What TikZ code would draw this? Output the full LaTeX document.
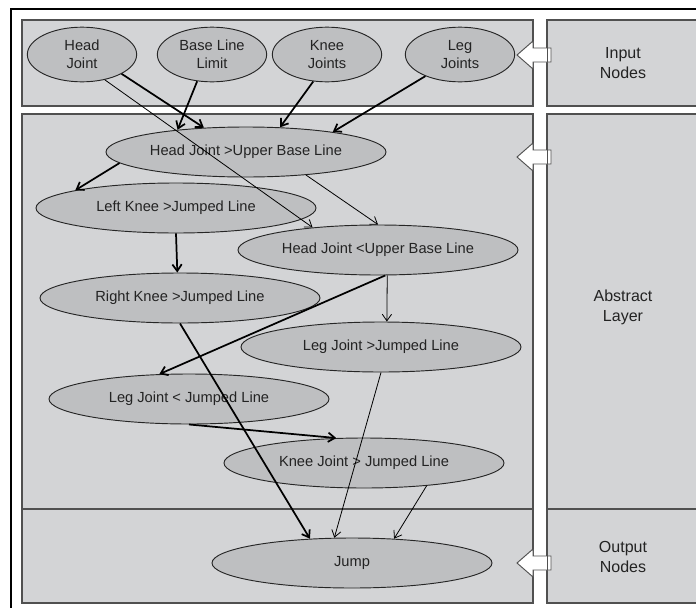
\documentclass[tikz,border=0pt]{standalone}
\usepackage{fontspec}
\setmainfont{Liberation Sans}
\usetikzlibrary{arrows.meta}
\usetikzlibrary{shapes.geometric}
\definecolor{panelgray}{RGB}{211,212,214}
\definecolor{nodegray}{RGB}{190,191,193}
\definecolor{panelline}{RGB}{80,80,80}
\definecolor{textgray}{RGB}{35,35,35}
\tikzset{
    layerpanel/.style={fill=panelgray, draw=panelline, line width=1.1pt},
    inputnode/.style={ellipse, draw=black!85, fill=nodegray, line width=0.7pt,
        minimum width=82pt, minimum height=41pt, inner sep=0pt, align=center,
        text=textgray, font=\fontsize{11}{13.5}\selectfont},
    rulenode/.style={inputnode, minimum width=210pt, minimum height=37.5pt},
    thickedge/.style={-{Straight Barb[length=5pt,width=7pt]}, line width=1.3pt},
    thinedge/.style={-{Straight Barb[length=5pt,width=7pt]}, line width=0.6pt},
    sidelabel/.style={align=center, text=textgray, font=\fontsize{12}{15}\selectfont},
    blockarrow/.style={fill=white, draw=panelline, line width=0.7pt}
}

\begin{document}
\begin{tikzpicture}[x=0.75pt, y=-0.75pt]
        \clip (0,0) rectangle (696,607);
        % frame
        \draw[black, line width=0.8pt] (11,610) -- (11,9) -- (700,9);
        % panels
        \foreach \top/\bottom in {20/106, 114/509, 509/603}
        {
            \draw[layerpanel] (22,\top) rectangle (533,\bottom);
            \draw[layerpanel] (547,\top) rectangle (700,\bottom);
        }
        % block arrows
        \foreach \y in {55,157,563}
        {
            \draw[blockarrow] (517,\y) -- (533,\y-14) -- (533,\y-7) -- (551,\y-7)
                -- (551,\y+7) -- (533,\y+7) -- (533,\y+14) -- cycle;
            \draw[panelline, line width=0.7pt] (547,\y-7) -- (547,\y+7);
        }
        % input nodes
        \node[inputnode] (headjoint) at (82,54.5) {Head\\Joint};
        \node[inputnode] (baseline) at (212,54.5) {Base Line\\Limit};
        \node[inputnode] (kneejoints) at (327,54.5) {Knee\\Joints};
        \node[inputnode] (legjoints) at (460,54.5) {Leg\\Joints};
        % abstract layer
        \node[rulenode] (headabove) at (246,152) {Head Joint >Upper Base Line};
        \node[rulenode] (leftknee) at (176,208) {Left Knee >Jumped Line};
        \node[rulenode] (headbelow) at (378,250) {Head Joint <Upper Base Line};
        \node[rulenode] (rightknee) at (180,298) {Right Knee >Jumped Line};
        \node[rulenode] (legabove) at (381,347) {Leg Joint >Jumped Line};
        \node[rulenode] (legbelow) at (189,399) {Leg Joint < Jumped Line};
        \node[rulenode] (kneeabove) at (364,463) {Knee Joint > Jumped Line};
        % output node
        \node[rulenode] (jump) at (352,563) {Jump};
        % side labels
        \node[sidelabel] (inputlabel) at (623,63) {Input\\Nodes};
        \node[sidelabel] (abstractlabel) at (623,307) {Abstract\\Layer};
        \node[sidelabel] (outputlabel) at (623,557) {Output\\Nodes};
        % edges
        \draw[thickedge] (headjoint.-26) -- (headabove.150);
        \draw[thinedge] (headjoint.-48) -- (headbelow.161);
        \draw[thickedge] (baseline.-119) -- (headabove.162);
        \draw[thickedge] (kneejoints.-117) -- (headabove.36);
        \draw[thickedge] (legjoints.-148) -- (headabove.13);
        \draw[thickedge] (headabove.-175) -- (leftknee.170);
        \draw[thinedge] (headabove.-21) -- (headbelow.north);
        \draw[thickedge] (leftknee.south) -- (rightknee.96);
        \draw[thickedge] (headbelow.-74) -- (legbelow.140);
        \draw[thinedge] (headbelow.-70) -- (legabove.77);
        \draw[thickedge] (rightknee.south) -- (jump.150);
        \draw[thickedge] (legbelow.south) -- (kneeabove.138);
        \draw[thinedge] (legabove.south) -- (jump.125);
        \draw[thinedge] (kneeabove.-20) -- (jump.30);
    \end{tikzpicture}
\end{document}
